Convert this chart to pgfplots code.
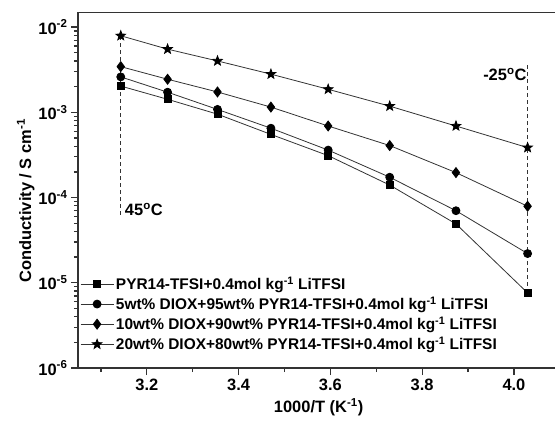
\documentclass[border=0pt]{standalone}
\usepackage{pgfplots}
\pgfplotsset{compat=1.18}
\usepackage{fontspec}
\setmainfont{Liberation Sans}
\pgfdeclareplotmark{fstar}{%
  \pgfpathmoveto{\pgfpointpolar{90}{\pgfplotmarksize}}%
  \pgfpathlineto{\pgfpointpolar{126}{0.42\pgfplotmarksize}}%
  \pgfpathlineto{\pgfpointpolar{162}{\pgfplotmarksize}}%
  \pgfpathlineto{\pgfpointpolar{198}{0.42\pgfplotmarksize}}%
  \pgfpathlineto{\pgfpointpolar{234}{\pgfplotmarksize}}%
  \pgfpathlineto{\pgfpointpolar{270}{0.42\pgfplotmarksize}}%
  \pgfpathlineto{\pgfpointpolar{306}{\pgfplotmarksize}}%
  \pgfpathlineto{\pgfpointpolar{342}{0.42\pgfplotmarksize}}%
  \pgfpathlineto{\pgfpointpolar{18}{\pgfplotmarksize}}%
  \pgfpathlineto{\pgfpointpolar{54}{0.42\pgfplotmarksize}}%
  \pgfpathclose\pgfusepathqfillstroke}
\definecolor{ln}{HTML}{333333}
\newcommand{\ff}{\fontsize{16.5}{18}\selectfont\bfseries}
\newcommand{\fl}{\fontsize{15.5}{17}\selectfont\bfseries}
\begin{document}
\begin{tikzpicture}
\begin{axis}[
  at={(0,0)}, anchor=south west,
  scale only axis, width=491bp, height=356bp,
  ymode=log, xmin=3.05, xmax=4.12, ymin=1e-6, ymax=1.5e-2,
  ytick={1e-6,1e-5,1e-4,1e-3,1e-2},
  yticklabels={10\textsuperscript{-6},10\textsuperscript{-5},10\textsuperscript{-4},10\textsuperscript{-3},10\textsuperscript{-2}},
  extra y ticks={2e-6,3e-6,4e-6,5e-6,6e-6,7e-6,8e-6,9e-6,2e-5,3e-5,4e-5,5e-5,6e-5,7e-5,8e-5,9e-5,2e-4,3e-4,4e-4,5e-4,6e-4,7e-4,8e-4,9e-4,2e-3,3e-3,4e-3,5e-3,6e-3,7e-3,8e-3,9e-3},
  extra y tick labels={},
  extra y tick style={major tick length=4bp},
  xtick={3.2,3.4,3.6,3.8,4.0},
  extra x ticks={3.1,3.3,3.5,3.7,3.9,4.1},
  extra x tick labels={},
  extra x tick style={major tick length=4bp},
  xticklabel style={/pgf/number format/assume math mode=true,/pgf/number format/fixed,/pgf/number format/precision=1,/pgf/number format/fixed zerofill},
  tick label style={font=\ff},
  label style={font=\ff},
  axis x line*=bottom, axis y line*=left,
  tick align=outside,
  major tick length=7bp,
  axis line style={line width=1.4bp, draw=ln, -},
  tick style={line width=1.3bp, draw=ln},
  xlabel={1000/T (K\textsuperscript{-1})},
  ylabel={Conductivity / S cm\textsuperscript{-1}},
  xlabel style={at={(axis description cs:0.49,0)}, anchor=north, yshift=-27bp},
  ylabel style={at={(axis description cs:0,0.47)}, anchor=south, yshift=40bp},
  legend cell align=left,
  legend style={draw=none, fill=none, at={(axis description cs:0.0,0.035)}, anchor=south west,
    font=\fl, row sep=2bp, inner xsep=2bp},
  legend image code/.code={\draw[mark repeat=2,mark phase=2] plot coordinates {(0bp,0bp)(16.5bp,0bp)(33bp,0bp)};},
  every axis plot/.append style={line width=0.8bp, color=ln, mark options={fill=black, draw=black, solid}},
]
\addplot[mark=square*, mark size=3.5bp] coordinates {
(3.1432,2.03e-3)(3.2452,1.42e-3)(3.3540,9.5e-4)(3.4704,5.5e-4)(3.5952,3.1e-4)(3.7293,1.4e-4)(3.8737,4.9e-5)(4.0298,7.6e-6)};
\addlegendentry{PYR14-TFSI+0.4mol kg\textsuperscript{-1} LiTFSI}
\addplot[mark=*, mark size=4bp] coordinates {
(3.1432,2.6e-3)(3.2452,1.72e-3)(3.3540,1.08e-3)(3.4704,6.5e-4)(3.5952,3.6e-4)(3.7293,1.73e-4)(3.8737,7.0e-5)(4.0298,2.2e-5)};
\addlegendentry{5wt\% DIOX+95wt\% PYR14-TFSI+0.4mol kg\textsuperscript{-1} LiTFSI}
\addplot[mark=diamond*, mark size=5bp] coordinates {
(3.1432,3.43e-3)(3.2452,2.44e-3)(3.3540,1.73e-3)(3.4704,1.15e-3)(3.5952,6.9e-4)(3.7293,4.07e-4)(3.8737,1.96e-4)(4.0298,7.9e-5)};
\addlegendentry{10wt\% DIOX+90wt\% PYR14-TFSI+0.4mol kg\textsuperscript{-1} LiTFSI}
\addplot[mark=fstar, mark size=5bp] coordinates {
(3.1432,7.9e-3)(3.2452,5.5e-3)(3.3540,4.0e-3)(3.4704,2.8e-3)(3.5952,1.86e-3)(3.7293,1.18e-3)(3.8737,6.9e-4)(4.0298,3.85e-4)};
\addlegendentry{20wt\% DIOX+80wt\% PYR14-TFSI+0.4mol kg\textsuperscript{-1} LiTFSI}
\addplot[dash pattern=on 4bp off 3bp, line width=0.8bp, mark=none, forget plot] coordinates {(3.1432,6.3e-5)(3.1432,7.9e-3)};
\addplot[dash pattern=on 4bp off 3bp, line width=0.8bp, mark=none, forget plot] coordinates {(4.0298,7.6e-6)(4.0298,3.8e-3)};
\node[anchor=west, font=\ff, inner sep=1bp] at (axis cs:3.1432,7.2e-5) {\hspace{3bp}45\textsuperscript{o}C};
\node[anchor=east, font=\ff, inner sep=1bp] at (axis cs:4.0298,2.8e-3) {-25\textsuperscript{o}C\hspace{4bp}};
\draw[line width=1.4bp, draw=ln] (rel axis cs:0,1) -- (rel axis cs:1,1);
\end{axis}
\pgfresetboundingbox
\path[use as bounding box] (-78bp,-56bp) rectangle (477bp,368bp);
\end{tikzpicture}
\end{document}
